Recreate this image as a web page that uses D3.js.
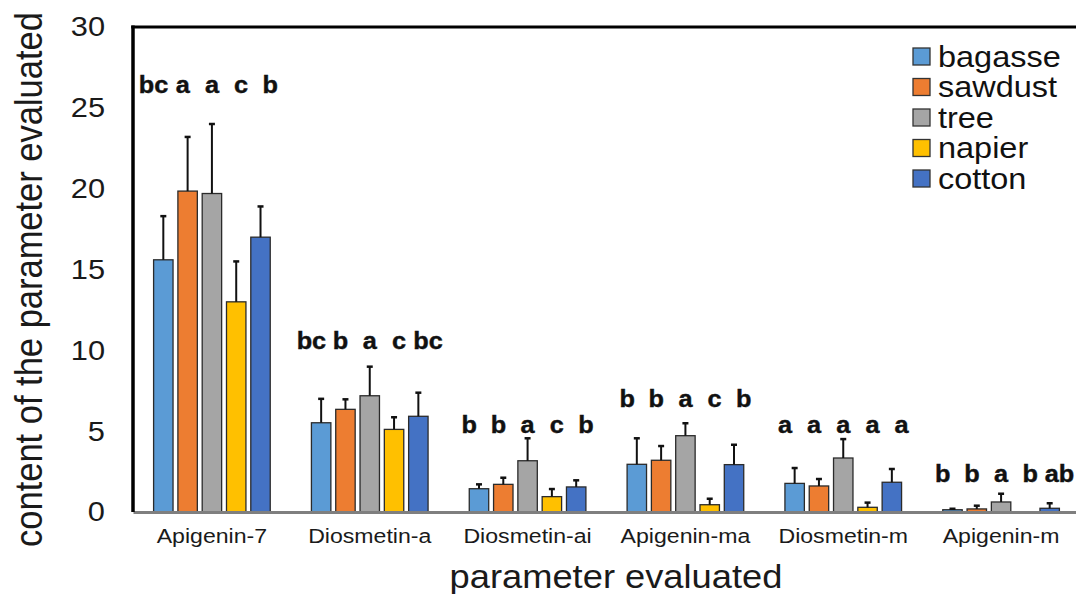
<!DOCTYPE html>
<html>
<head>
<meta charset="utf-8">
<script src="https://cdn.jsdelivr.net/npm/d3@7"></script>
<style>
  body { margin: 0; background: #fff; }
  text { font-family: Arial, "Liberation Sans", sans-serif; }
</style>
</head>
<body>
<div id="chart"></div>
<script>
// values
const categories = ["Apigenin-7", "Diosmetin-a", "Diosmetin-ai", "Apigenin-ma", "Diosmetin-m", "Apigenin-m"];
const seriesNames = ["bagasse", "sawdust", "tree", "napier", "cotton"];
const bagasse = [15.6, 5.52, 1.44, 2.95, 1.77, 0.14];
const sawdust = [19.85, 6.35, 1.71, 3.2, 1.61, 0.19];
const tree = [19.7, 7.19, 3.17, 4.72, 3.34, 0.62];
const napier = [13.0, 5.11, 0.95, 0.45, 0.29, 0.0];
const cotton = [17.0, 5.92, 1.55, 2.93, 1.84, 0.23];
// upper error (sd)
const bagasseErr = [2.7, 1.48, 0.27, 1.61, 0.95, 0.06];
const sawdustErr = [3.35, 0.62, 0.41, 0.88, 0.43, 0.2];
const treeErr = [4.3, 1.8, 1.39, 0.77, 1.17, 0.51];
const napierErr = [2.5, 0.75, 0.47, 0.37, 0.29, 0];
const cottonErr = [1.9, 1.46, 0.41, 1.23, 0.82, 0.31];
// significance letters and the level (in data units) they sit at
const letters = [
    ["bc", "a", "a", "c", "b"],
    ["bc", "b", "a", "c", "bc"],
    ["b", "b", "a", "c", "b"],
    ["b", "b", "a", "c", "b"],
    ["a", "a", "a", "a", "a"],
    ["b", "b", "a", "b", "ab"]
];
const letterLevel = [25.9, 10.1, 4.9, 6.5, 4.9, 1.85];
const yTicks = [0, 5, 10, 15, 20, 25, 30];
const colors = ["#5B9BD5", "#ED7D31", "#A5A5A5", "#FFC000", "#4472C4"];

const values = [bagasse, sawdust, tree, napier, cotton];
const errors = [bagasseErr, sawdustErr, treeErr, napierErr, cottonErr];

const config = {
    width: 1076,
    height: 594,
    margin: { top: 27, left: 133, bottom: 82, right: -4 },
    sx: 1.1,
    letterSpread: 1.2,
};

const svg = d3.select("#chart").append("svg")
    .attr("width", config.width)
    .attr("height", config.height);

const plotRight = config.width - config.margin.right;
const plotBottom = config.height - config.margin.bottom;

const x = d3.scaleBand()
    .domain(categories)
    .range([config.margin.left, plotRight])
    .padding(0);
const y = d3.scaleLinear()
    .domain([0, 30])
    .range([plotBottom, config.margin.top]);

const inner = d3.scaleBand()
    .domain(seriesNames)
    .range([-60.75, 60.75])
    .paddingInner(0.2)
    .paddingOuter(0.1);

// flatten data
const rows = [];
categories.forEach((c, ci) => {
    seriesNames.forEach((s, si) => {
        rows.push({ c, ci, s, si, v: values[si][ci], e: errors[si][ci], l: letters[ci][si] });
    });
});
const groupMid = d => x(d.c) + x.bandwidth() / 2;
const barX = d => groupMid(d) + inner(d.s);
const barMid = d => barX(d) + inner.bandwidth() / 2;

// bars
svg.append("g").selectAll("rect")
    .data(rows.filter(d => d.v > 0))
    .join("rect")
    .attr("x", barX)
    .attr("y", d => y(d.v))
    .attr("width", inner.bandwidth())
    .attr("height", d => y(0) - y(d.v))
    .attr("fill", d => colors[d.si])
    .attr("stroke", "#2b2b2b")
    .attr("stroke-width", 1.3);

// error bars (upper only)
const gErr = svg.append("g").attr("stroke", "#111").attr("stroke-width", 2);
gErr.selectAll("line.stem")
    .data(rows.filter(d => d.e > 0))
    .join("line")
    .attr("class", "stem")
    .attr("x1", barMid)
    .attr("x2", barMid)
    .attr("y1", d => y(d.v))
    .attr("y2", d => y(d.v + d.e));
gErr.selectAll("line.cap")
    .data(rows.filter(d => d.e > 0))
    .join("line")
    .attr("class", "cap")
    .attr("stroke-width", 2.5)
    .attr("x1", d => barMid(d) - 3)
    .attr("x2", d => barMid(d) + 3)
    .attr("y1", d => y(d.v + d.e))
    .attr("y2", d => y(d.v + d.e));

// letters (spread a little wider than the bars so that they do not collide)
svg.append("g").selectAll("text")
    .data(rows)
    .join("text")
    .attr("transform", d => {
        const lx = groupMid(d) + (barMid(d) - groupMid(d)) * config.letterSpread;
        return `translate(${lx},${y(letterLevel[d.ci])}) scale(1.1,1)`;
    })
    .attr("text-anchor", "middle")
    .attr("font-size", 23)
    .attr("font-weight", "bold")
    .attr("fill", "#111")
    .attr("stroke", "#111")
    .attr("stroke-width", 0.4)
    .text(d => d.l);

// x axis
const g_axisX = svg.append("g")
    .attr("transform", `translate(0,${plotBottom})`)
    .call(d3.axisBottom(x).tickSize(0).tickPadding(16).tickSizeOuter(0));
g_axisX.select(".domain").attr("stroke", "#7f7f7f").attr("stroke-width", 3);
g_axisX.selectAll("text")
    .attr("font-size", 21)
    .attr("fill", "#1a1a1a")
    .attr("transform", `scale(${config.sx},1)`);

// y axis
const g_axisY = svg.append("g")
    .attr("transform", `translate(${config.margin.left},0)`)
    .call(d3.axisLeft(y).tickValues(yTicks).tickSize(0).tickPadding(28 / config.sx).tickSizeOuter(0));
g_axisY.select(".domain").remove();
g_axisY.selectAll("text")
    .attr("font-size", 28)
    .attr("fill", "#1a1a1a")
    .attr("transform", `scale(${config.sx},1)`);

// frame: left black, top black
svg.append("line")
    .attr("x1", config.margin.left).attr("x2", config.margin.left)
    .attr("y1", y(30) - 1.5).attr("y2", y(0))
    .attr("stroke", "#000").attr("stroke-width", 3.5);
svg.append("line")
    .attr("x1", config.margin.left - 1.75).attr("x2", plotRight)
    .attr("y1", y(30)).attr("y2", y(30))
    .attr("stroke", "#000").attr("stroke-width", 3);

// axis titles
svg.append("text")
    .attr("transform", `translate(42,${(y(30) + y(0)) / 2 + 10}) rotate(-90) scale(1,1.15)`)
    .attr("text-anchor", "middle")
    .attr("font-size", 34.5)
    .attr("fill", "#1a1a1a")
    .text("content of the parameter evaluated");
svg.append("text")
    .attr("transform", `translate(616,588) scale(${config.sx},1)`)
    .attr("text-anchor", "middle")
    .attr("font-size", 33)
    .attr("fill", "#1a1a1a")
    .text("parameter evaluated");

// legend
const legend = svg.append("g").attr("transform", "translate(913,48)");
const item = legend.selectAll("g")
    .data(seriesNames)
    .join("g")
    .attr("transform", (d, i) => `translate(0,${i * 30.5})`);
item.append("rect")
    .attr("width", 17).attr("height", 17)
    .attr("fill", (d, i) => colors[i])
    .attr("stroke", "#333").attr("stroke-width", 1.3);
item.append("text")
    .attr("transform", "translate(25,8.5) scale(1.12,1)")
    .attr("dy", "0.36em")
    .attr("font-size", 29)
    .attr("fill", "#111")
    .text(d => d);
</script>
</body>
</html>
